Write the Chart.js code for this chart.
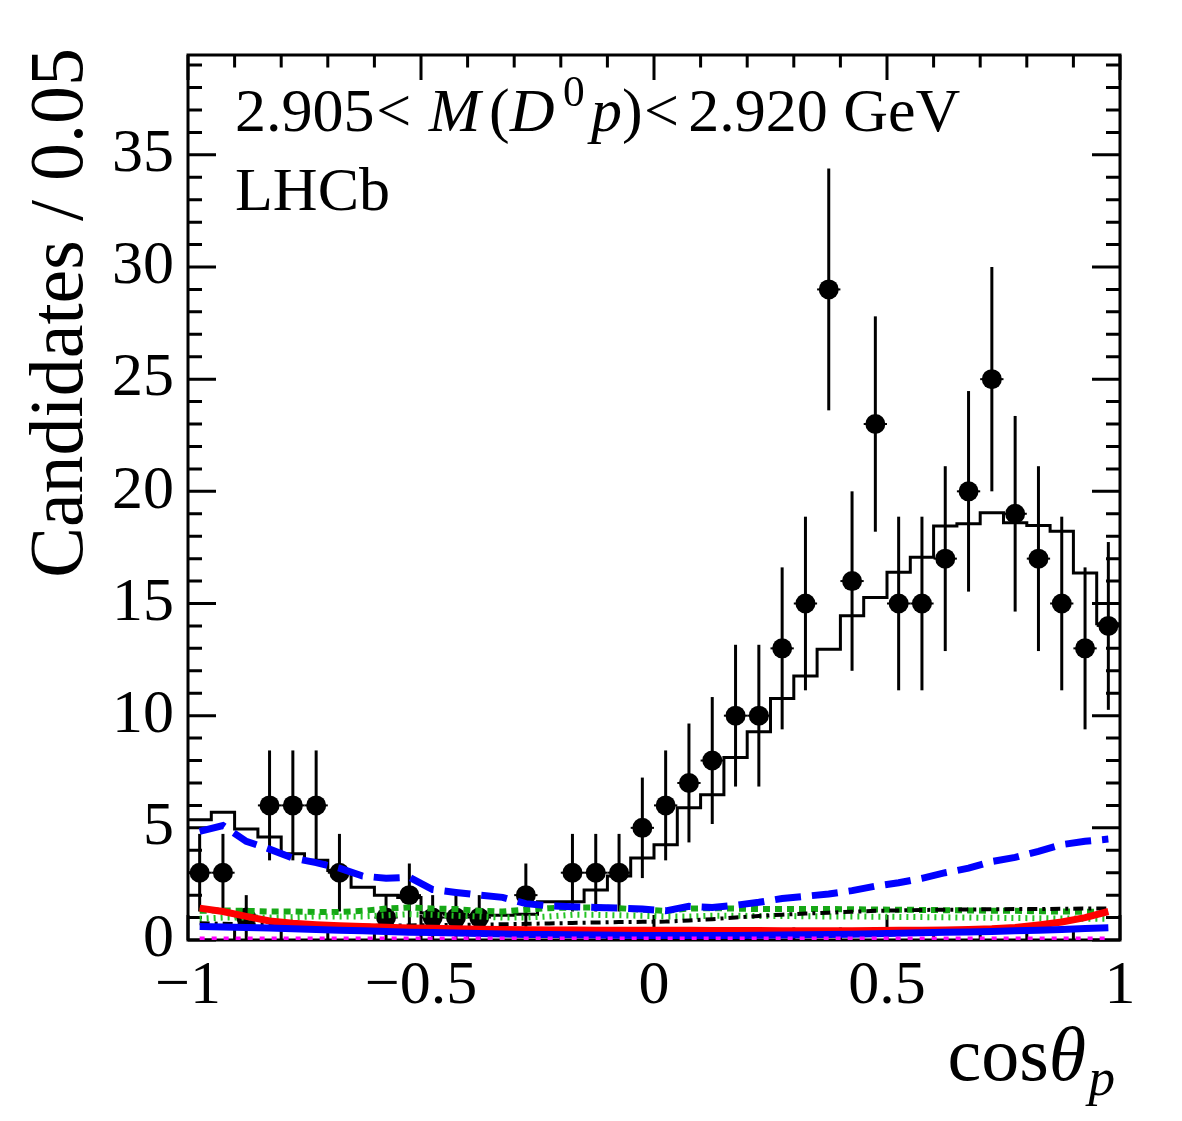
<!DOCTYPE html>
<html><head><meta charset="utf-8">
<script src="https://cdn.jsdelivr.net/npm/chart.js@4.4.1/dist/chart.umd.min.js"></script>
<style>html,body{margin:0;padding:0;background:#fff;overflow:hidden}#wrap{width:1182px;height:1121px;position:relative}</style>
</head><body><div id="wrap"><canvas id="c" width="1182" height="1121"></canvas></div>
<script>
// ---- data ----
const binCenters = [-0.975,-0.925,-0.875,-0.825,-0.775,-0.725,-0.675,-0.625,-0.575,-0.525,
  -0.475,-0.425,-0.375,-0.325,-0.275,-0.225,-0.175,-0.125,-0.075,-0.025,
  0.025,0.075,0.125,0.175,0.225,0.275,0.325,0.375,0.425,0.475,
  0.525,0.575,0.625,0.675,0.725,0.775,0.825,0.875,0.925,0.975];
const binHalfWidth = 0.025;
const counts = [3,3,1,6,6,6,3,0,1,2,1,1,1,0,2,0,3,3,3,5,6,7,8,10,10,13,15,29,16,23,15,15,17,20,25,19,17,15,13,14];
const countErrors = [1.73,1.73,1,2.45,2.45,2.45,1.73,0,1,1.41,1,1,1,0,1.41,0,1.73,1.73,1.73,2.24,2.45,2.65,2.83,3.16,3.16,3.61,3.87,5.39,4,4.8,3.87,3.87,4.12,4.47,5,4.36,4.12,3.87,3.61,3.74];
const fitTotal = [5.36,5.7,4.95,4.59,3.84,3.55,3.1,2.35,2.0,1.9,1.2,1.15,1.1,1.1,1.15,1.7,1.7,2.23,2.85,3.65,4.25,5.9,6.48,8.14,9.28,10.76,11.77,12.96,14.45,15.27,16.39,17.06,18.45,18.55,19.04,18.6,18.48,18.22,16.36,14.1];
const compBlueDashed = [4.84,5.1,4.4,4.05,3.65,3.45,3.2,2.85,2.75,2.8,2.25,2.12,2.0,1.9,1.62,1.52,1.48,1.45,1.42,1.38,1.3,1.5,1.45,1.55,1.68,1.85,1.95,2.05,2.2,2.4,2.55,2.75,3.0,3.2,3.5,3.68,3.95,4.25,4.4,4.5];
const compGreenDashed = [1.3,1.32,1.3,1.27,1.27,1.25,1.25,1.3,1.4,1.45,1.4,1.38,1.3,1.27,1.35,1.42,1.45,1.45,1.42,1.35,1.3,1.4,1.42,1.4,1.38,1.38,1.38,1.38,1.37,1.36,1.35,1.34,1.33,1.32,1.3,1.3,1.28,1.27,1.26,1.25];
const compGreenDotted = [0.95,1.0,1.0,1.0,1.02,1.05,1.05,1.05,1.1,1.15,1.12,1.08,1.05,1.0,1.0,1.05,1.12,1.12,1.1,1.08,1.05,1.05,1.08,1.08,1.07,1.07,1.06,1.05,1.05,1.04,1.03,1.02,1.01,1.0,0.99,0.98,0.97,0.96,0.95,0.95];
const compBlackDashDot = [0.75,0.72,0.7,0.68,0.66,0.65,0.64,0.64,0.64,0.65,0.66,0.67,0.68,0.7,0.72,0.74,0.76,0.78,0.8,0.81,0.82,0.87,0.93,1.0,1.07,1.13,1.18,1.22,1.26,1.3,1.32,1.34,1.35,1.36,1.37,1.38,1.38,1.39,1.4,1.4];
const compRed = [1.42,1.27,1.05,0.85,0.75,0.68,0.63,0.6,0.57,0.54,0.52,0.5,0.48,0.47,0.46,0.45,0.45,0.44,0.44,0.43,0.43,0.43,0.42,0.42,0.42,0.41,0.41,0.41,0.41,0.42,0.43,0.44,0.45,0.47,0.5,0.56,0.67,0.8,1.0,1.27];
const compBlue = [0.6,0.58,0.56,0.53,0.5,0.47,0.44,0.41,0.38,0.35,0.33,0.31,0.29,0.27,0.25,0.24,0.23,0.22,0.21,0.2,0.2,0.2,0.2,0.2,0.21,0.22,0.23,0.24,0.26,0.28,0.3,0.32,0.34,0.36,0.38,0.41,0.44,0.47,0.51,0.55];
const compMagenta = [0.05,0.05,0.05,0.05,0.05,0.05,0.05,0.05,0.05,0.05,0.05,0.05,0.05,0.05,0.05,0.05,0.05,0.05,0.05,0.05,0.05,0.05,0.05,0.05,0.05,0.05,0.05,0.05,0.05,0.05,0.05,0.05,0.05,0.05,0.05,0.05,0.05,0.05,0.05,0.05];
const xTickValues = [-1,-0.5,0,0.5,1];
const xTickLabels = ['\u22121','\u22120.5','0','0.5','1'];
const yTickValues = [0,5,10,15,20,25,30,35];
const yTickLabels = ['0','5','10','15','20','25','30','35'];
const xRange = [-1, 1];
const yRange = [0, 39.45];

// ---- build library data ----
const FONT = '"Liberation Serif", "Times New Roman", serif';
const histPts = binCenters.map((c,i)=>({x:c-binHalfWidth, y:fitTotal[i]}));
histPts.push({x:binCenters[binCenters.length-1]+binHalfWidth, y:fitTotal[fitTotal.length-1]});
const dataPts = binCenters.map((c,i)=>({x:c, y:counts[i]>0?counts[i]:null}));
const curve = arr => binCenters.map((c,i)=>({x:c, y:arr[i]}));

const DATA_INDEX = 1;
const errorBars = {
  id:'errorBars',
  beforeDatasetDraw(chart, args){
    if(args.index!==DATA_INDEX) return;
    const {ctx, scales:{x,y}} = chart;
    ctx.save();
    ctx.strokeStyle='#000';
    binCenters.forEach((c,i)=>{
      if(counts[i]<=0) return;
      const px=x.getPixelForValue(c);
      ctx.lineWidth=3;
      ctx.beginPath();
      ctx.moveTo(px,y.getPixelForValue(Math.max(0,counts[i]-countErrors[i])));
      ctx.lineTo(px,y.getPixelForValue(counts[i]+countErrors[i]));
      ctx.stroke();
      ctx.lineWidth=2;
      const py=y.getPixelForValue(counts[i]);
      ctx.beginPath();
      ctx.moveTo(x.getPixelForValue(c-binHalfWidth),py);
      ctx.lineTo(x.getPixelForValue(c+binHalfWidth),py);
      ctx.stroke();
    });
    ctx.restore();
  }
};

const frame = {
  id:'frame',
  beforeDatasetsDraw(chart){
    const {ctx, chartArea:a, scales:{x,y}} = chart;
    ctx.save();
    ctx.strokeStyle='#000'; ctx.lineWidth=3; ctx.lineCap='butt';
    ctx.strokeRect(a.left,a.top,a.right-a.left,a.bottom-a.top);
    ctx.beginPath();
    for(let i=-10;i<=10;i++){
      const v=i/10, px=x.getPixelForValue(v);
      const L = (i%5===0)?25:12.5;
      ctx.moveTo(px,a.bottom); ctx.lineTo(px,a.bottom-L);
      ctx.moveTo(px,a.top); ctx.lineTo(px,a.top+L);
    }
    for(let v=0; v<=39; v++){
      const py=y.getPixelForValue(v);
      const L=(v%5===0)?28:14;
      ctx.moveTo(a.left,py); ctx.lineTo(a.left+L,py);
      ctx.moveTo(a.right,py); ctx.lineTo(a.right-L,py);
    }
    ctx.stroke();
    ctx.restore();
  },
  afterDraw(chart){
    const {ctx} = chart;
    ctx.save();
    ctx.fillStyle='#000';
    ctx.textBaseline='alphabetic';
    const rich=(x0,y0,size,segs)=>{
      let cx=x0;
      segs.forEach(s=>{
        const fs=size*(s.scale||1);
        ctx.font=(s.italic?'italic ':'')+fs+'px '+FONT;
        cx+=(s.dx||0)*size;
        ctx.fillText(s.t,cx,y0+(s.dy||0)*size);
        cx+=ctx.measureText(s.t).width;
      });
      return cx-x0;
    };
    rich(235,131,62,[
      {t:'2.905'},{t:'<',dx:0.03},{t:'M',italic:true,dx:0.28},{t:'(',dx:0.14},
      {t:'D',italic:true,dx:0.0},{t:'0',scale:0.7,dy:-0.4,dx:0.14},{t:'p',italic:true,dx:0.1},
      {t:')',dx:0.0},{t:'<',dx:0.02},{t:'2.920 GeV',dx:0.15}
    ]);
    ctx.font='62px '+FONT;
    ctx.fillText('LHCb',235,210);

    // x title (right aligned to the axis end)
    const xt=[{t:'cos'},{t:'\u03B8',italic:true},{t:'p',italic:true,scale:0.7,dy:0.2,dx:0.03}];
    ctx.save(); ctx.globalAlpha=0; const w=rich(0,0,76,xt); ctx.restore();
    rich(1115-w,1080,76,xt);

    // y title
    ctx.save();
    ctx.translate(82,48);
    ctx.rotate(-Math.PI/2);
    ctx.textAlign='right';
    ctx.font='76px '+FONT;
    ctx.fillText('Candidates / 0.05',0,0);
    ctx.restore();
    ctx.restore();
  }
};

const lineDs = (label,arr,color,width,dash,order)=>({
  label, data:curve(arr), borderColor:color, borderWidth:width, borderDash:dash,
  pointRadius:0, fill:false, tension:0, order, borderCapStyle:'butt'
});

new Chart(document.getElementById('c'),{
  type:'line',
  data:{datasets:[
    {label:'fit', data:histPts, stepped:'before', borderColor:'#000', borderWidth:3,
     pointRadius:0, fill:false, order:30},
    {label:'data', data:dataPts, showLine:false, pointRadius:10, pointBackgroundColor:'#000',
     pointBorderWidth:0, borderColor:'#000', order:20},
    lineDs('greenDashed',compGreenDashed,'#16a816',6,[7,5],9),
    lineDs('greenDotted',compGreenDotted,'#25c425',6,[2,5],8),
    lineDs('blackDashDot',compBlackDashDot,'#000',4,[10,5,3,5],7),
    lineDs('red',compRed,'#ff0000',7,[],6),
    lineDs('blue',compBlue,'#0000ff',7,[],5),
    lineDs('magenta',compMagenta,'#ff00ff',5,[5,7],4),
    lineDs('blueDashed',compBlueDashed,'#0000ff',7,[26,11],3)
  ]},
  options:{
    responsive:false, animation:false, devicePixelRatio:1, events:[],
    layout:{padding:{top:55,right:62,bottom:0,left:0}},
    plugins:{legend:{display:false},tooltip:{enabled:false}},
    scales:{
      x:{type:'linear',min:xRange[0],max:xRange[1],
        grid:{display:false},border:{display:false},
        afterBuildTicks:s=>{s.ticks=xTickValues.map(v=>({value:v}));},
        afterFit:s=>{s.height=181;},
        ticks:{autoSkip:false,maxRotation:0,padding:2,color:'#000',
          font:{family:FONT,size:62},callback:(v,i)=>xTickLabels[i]}},
      y:{type:'linear',min:yRange[0],max:yRange[1],
        grid:{display:false},border:{display:false},
        afterBuildTicks:s=>{s.ticks=yTickValues.map(v=>({value:v}));},
        afterFit:s=>{s.width=188;},
        ticks:{autoSkip:false,padding:6,color:'#000',
          font:{family:FONT,size:62},callback:(v,i)=>yTickLabels[i]}}
    }
  },
  plugins:[errorBars,frame]
});
</script></body></html>
